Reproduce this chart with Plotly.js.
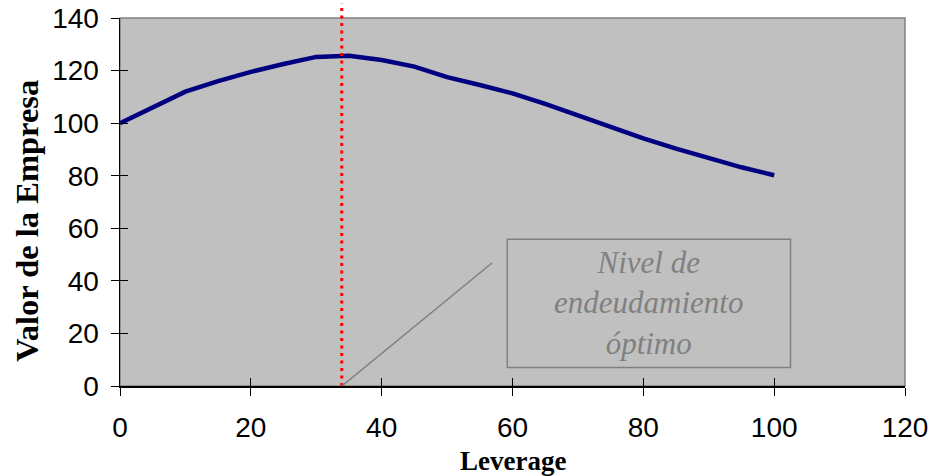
<!DOCTYPE html>
<html>
<head>
<meta charset="utf-8">
<script src="https://cdn.plot.ly/plotly-3.0.1.min.js"></script>
<style>html,body{margin:0;padding:0;background:#fff;}#chart{width:929px;height:476px;}</style>
</head>
<body>
<div id="chart"></div>
<script>
// Data
const leverage = [0, 5, 10, 15, 20, 25, 30, 35, 40, 45, 50, 55, 60, 65, 70, 75, 80, 85, 90, 95, 100];
const valorEmpresa = [100, 106, 112, 116, 119.5, 122.5, 125.2, 125.6, 124, 121.5, 117.5, 114.5, 111.3, 107.3, 102.8, 98.3, 94.2, 90.3, 86.6, 83.2, 80.2];
const nivelOptimo = 33.9;
const xTicks = [0, 20, 40, 60, 80, 100, 120];
const yTicks = [0, 20, 40, 60, 80, 100, 120, 140];
const xRange = [0, 120];
const yRange = [0, 140];

const traces = [
  {
    x: leverage, y: valorEmpresa, type: 'scatter', mode: 'lines',
    line: {color: '#000080', width: 4.5}, hoverinfo: 'skip', showlegend: false
  },
  {x: [], y: [], xaxis: 'x2', yaxis: 'y2', type: 'scatter', mode: 'lines', showlegend: false}
];

const SERIF = 'Times New Roman';
const SANS = 'Arial';
const tickFont = {family: SANS, size: 28, color: '#000'};

const layout = {
  width: 929, height: 476,
  margin: {l: 120, r: 24, t: 18, b: 90, pad: 0},
  paper_bgcolor: '#ffffff',
  plot_bgcolor: '#C0C0C0',
  showlegend: false,
  font: {family: SANS},
  xaxis: {
    range: xRange, tickvals: xTicks, ticktext: xTicks.map(String),
    ticks: 'outside', ticklen: 8, tickwidth: 1, tickcolor: '#000',
    showline: true, linecolor: '#000', linewidth: 1.5,
    showgrid: false, zeroline: false, tickfont: tickFont, ticklabelstandoff: 8
  },
  yaxis: {
    range: yRange, tickvals: yTicks, ticktext: yTicks.map(String),
    ticks: 'outside', ticklen: 8, tickwidth: 1, tickcolor: '#000',
    showline: true, linecolor: '#000', linewidth: 1.5,
    showgrid: false, zeroline: false, tickfont: tickFont, ticklabelstandoff: 6
  },
  xaxis2: {
    overlaying: 'x', anchor: 'y2', range: xRange, tickvals: xTicks,
    ticks: 'inside', ticklen: 8, tickwidth: 1, tickcolor: '#000',
    showticklabels: false, showline: false, showgrid: false, zeroline: false, side: 'bottom'
  },
  yaxis2: {
    overlaying: 'y', anchor: 'x2', range: yRange, tickvals: yTicks,
    ticks: 'inside', ticklen: 8, tickwidth: 1, tickcolor: '#000',
    showticklabels: false, showline: false, showgrid: false, zeroline: false, side: 'left'
  },
  shapes: [
    {type: 'rect', xref: 'paper', yref: 'paper', x0: 0, x1: 1, y0: 0, y1: 1,
     line: {color: '#808080', width: 1.5}, layer: 'below'},
    {type: 'line', xref: 'x', yref: 'paper', x0: nivelOptimo, x1: nivelOptimo, y0: 0, y1: 1.04,
     line: {color: '#FF0000', width: 3, dash: '3px,4.5px'}},
    {type: 'line', xref: 'x', yref: 'y', x0: 33.2, y0: -1.5, x1: 56.9, y1: 46.9,
     line: {color: '#808080', width: 1.5}},
    {type: 'rect', xref: 'x', yref: 'y', x0: 59.2, x1: 102.5, y0: 7.0, y1: 55.8,
     line: {color: '#808080', width: 1.5}, fillcolor: 'rgba(0,0,0,0)'}
  ],
  annotations: [
    {xref: 'x', yref: 'y', x: 80.85, y: 31.4, xanchor: 'center', yanchor: 'middle',
     text: '<i>Nivel de<br>endeudamiento<br>óptimo</i>', showarrow: false, align: 'center',
     font: {family: SERIF, size: 31, color: '#808080'}},
    {xref: 'paper', yref: 'paper', x: -0.118, y: 0.45, xanchor: 'center', yanchor: 'middle',
     text: '<b>Valor de la Empresa</b>', textangle: -90, showarrow: false,
     font: {family: SERIF, size: 32.5, color: '#000'}},
    {xref: 'paper', yref: 'paper', x: 0.5, y: -0.205, xanchor: 'center', yanchor: 'middle',
     text: '<b>Leverage</b>', showarrow: false,
     font: {family: SERIF, size: 27, color: '#000'}}
  ]
};

Plotly.newPlot('chart', traces, layout, {displayModeBar: false, staticPlot: true});
</script>
</body>
</html>
